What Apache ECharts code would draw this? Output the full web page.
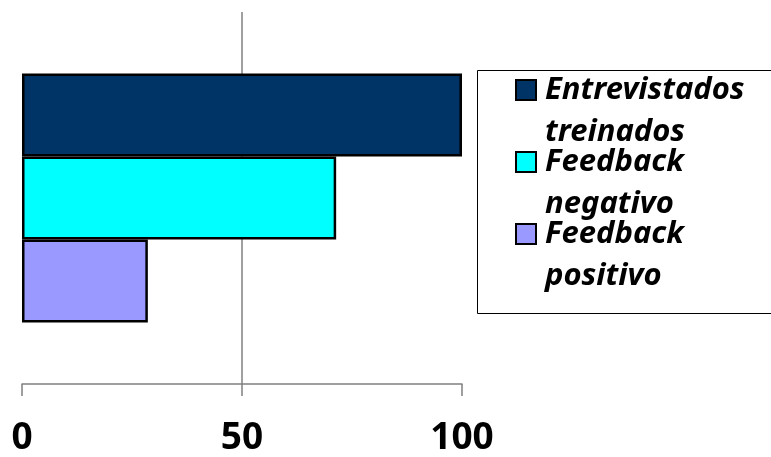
<!DOCTYPE html>
<html>
<head>
<meta charset="utf-8">
<script src="https://cdn.jsdelivr.net/npm/echarts@6/dist/echarts.min.js"></script>
<style>
  html, body { margin: 0; padding: 0; background: #ffffff; overflow: hidden; }
  #chart { width: 771px; height: 457px; }
</style>
</head>
<body>
<div id="chart"></div>
<script>
// Share of interviewees (%)
const categories = ['Total'];
const seriesNames = ['Entrevistados\ntreinados', 'Feedback\nnegativo', 'Feedback\npositivo'];
const seriesValues = [[100], [71.4], [28.6]];
const seriesColors = ['#003366', '#00FFFF', '#9999FF'];
const xTicks = [0, 50, 100];

const FONT = '"Noto Sans", "Open Sans", sans-serif';

const chart = echarts.init(document.getElementById('chart'), null, { renderer: 'canvas' });

chart.setOption({
  animation: false,
  backgroundColor: '#ffffff',
  grid: { left: 22, right: 309, top: 12, bottom: 69, containLabel: false },
  xAxis: {
    type: 'value',
    min: xTicks[0],
    max: xTicks[xTicks.length - 1],
    interval: xTicks[1] - xTicks[0],
    axisLine: { show: true, lineStyle: { color: '#808080', width: 1.5 } },
    axisTick: { show: true, length: 12, lineStyle: { color: '#808080', width: 1.5 } },
    axisLabel: {
      margin: 36,
      color: '#000000',
      fontFamily: FONT,
      fontWeight: 'bold',
      fontSize: 37
    },
    splitLine: {
      show: true,
      lineStyle: { color: ['transparent', '#808080', 'transparent'], width: 1.5 }
    }
  },
  yAxis: {
    type: 'category',
    data: categories,
    inverse: true,
    axisLine: { show: false },
    axisTick: { show: false },
    axisLabel: { show: false },
    splitLine: { show: false }
  },
  // legend frame, running off the right side of the canvas
  graphic: [{
    type: 'polyline',
    z: 0,
    shape: { points: [[820, 70.5], [477.5, 70.5], [477.5, 313.5], [820, 313.5]] },
    style: { fill: 'none', stroke: '#000000', lineWidth: 1 }
  }],
  legend: {
    orient: 'vertical',
    left: 515,
    top: 27,
    data: seriesNames,
    icon: 'rect',
    itemWidth: 20,
    itemHeight: 20,
    itemGap: -54,
    padding: 0,
    // a blank leading line keeps the first text line level with the swatch
    formatter: name => ' \n' + name,
    textStyle: {
      color: '#000000',
      fontFamily: FONT,
      fontStyle: 'italic',
      fontWeight: 'bold',
      fontSize: 31,
      lineHeight: 42,
      padding: [0, 0, 0, 4]
    }
  },
  series: seriesNames.map((name, i) => ({
    name: name,
    type: 'bar',
    data: seriesValues[i],
    barGap: '0%',
    barCategoryGap: '33%',
    itemStyle: { color: seriesColors[i], borderColor: '#000000', borderWidth: 2.5 }
  }))
});
</script>
</body>
</html>
